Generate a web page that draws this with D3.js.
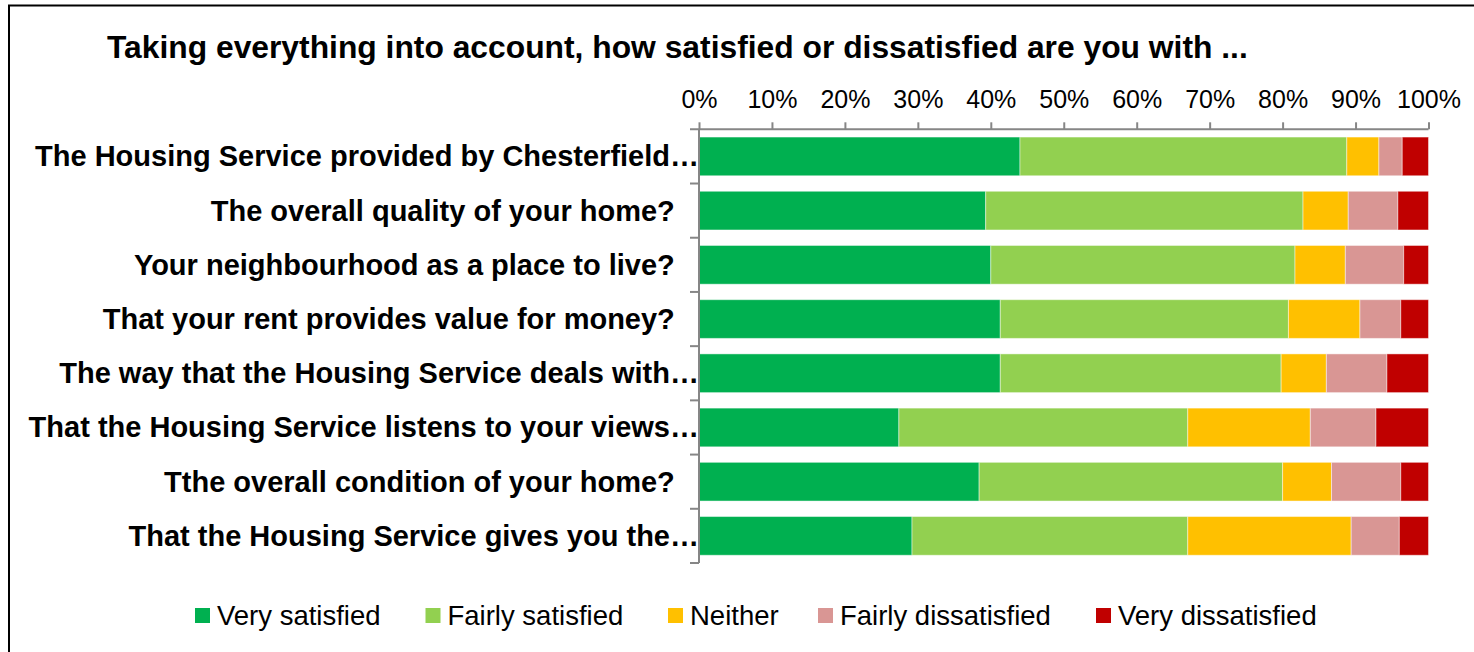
<!DOCTYPE html>
<html>
<head>
<meta charset="utf-8">
<script src="https://cdn.jsdelivr.net/npm/d3@7"></script>
<style>
  body { margin: 0; background: #fff; }
  text { font-family: "Liberation Sans", Arial, sans-serif; }
</style>
</head>
<body>
<svg id="chart" width="1474" height="652"></svg>
<script>
let questions = [
  "The Housing Service provided by Chesterfield\u2026",
  "The overall quality of your home?   ",
  "Your neighbourhood as a place to live?   ",
  "That your rent provides value for money?   ",
  "The way that the Housing Service deals with\u2026",
  "That the Housing Service listens to your views\u2026",
  "Tthe overall condition of your home?   ",
  "That the Housing Service gives you the\u2026"
];

let responses = ["Very satisfied", "Fairly satisfied", "Neither", "Fairly dissatisfied", "Very dissatisfied"];

let veryS = [44.0, 39.3, 40.0, 41.3, 41.3, 27.4, 38.4, 29.2];
let fairlyS = [44.8, 43.5, 41.7, 39.5, 38.5, 39.6, 41.6, 37.8];
let neither = [4.4, 6.2, 6.9, 9.8, 6.2, 16.8, 6.7, 22.4];
let fairlyD = [3.2, 6.8, 8.0, 5.6, 8.3, 9.0, 9.5, 6.6];
let veryD = [3.6, 4.2, 3.4, 3.8, 5.7, 7.2, 3.8, 4.0];

let colors = ["#00b050", "#92d050", "#ffc000", "#d99694", "#c00000"];

let tickLabels = ["0%", "10%", "20%", "30%", "40%", "50%", "60%", "70%", "80%", "90%", "100%"];

let svg = d3.select("#chart");
let width = +svg.attr("width");
let height = +svg.attr("height");

// frame, right and bottom edges fall outside the picture
svg.append("rect")
  .attr("x", 9).attr("y", 5.5)
  .attr("width", width).attr("height", height)
  .attr("fill", "none")
  .attr("stroke", "#000")
  .attr("stroke-width", 2);

svg.append("text")
  .attr("x", 107).attr("y", 58)
  .style("font-size", "31.8px")
  .style("font-weight", "bold")
  .text("Taking everything into account, how satisfied or dissatisfied are you with ...");

let table = questions.map(function (q, i) {
  return {
    question: q,
    "Very satisfied": veryS[i],
    "Fairly satisfied": fairlyS[i],
    "Neither": neither[i],
    "Fairly dissatisfied": fairlyD[i],
    "Very dissatisfied": veryD[i]
  };
});

let stacked = d3.stack().keys(responses)(table);

let x = d3.scaleLinear().domain([0, 100]).range([699, 1428.5]);
let y = d3.scaleBand().domain(questions).range([129.3, 563]).paddingInner(0.286).paddingOuter(0.143);

let color = d3.scaleOrdinal().domain(responses).range(colors);

svg.append("g")
  .selectAll("g")
  .data(stacked)
  .enter()
  .append("g")
  .attr("fill", function (d) { return color(d.key); })
  .selectAll("rect")
  .data(function (d) { return d; })
  .enter()
  .append("rect")
  .attr("x", function (d) { return x(d[0]); })
  .attr("y", function (d) { return y(d.data.question); })
  .attr("width", function (d) { return x(d[1]) - x(d[0]); })
  .attr("height", y.bandwidth())
  .attr("stroke", "#fff")
  .attr("stroke-opacity", 0.45)
  .attr("stroke-width", 1);

// top percentage axis
let xAxis = svg.append("g")
  .attr("transform", "translate(0,129.3)")
  .call(d3.axisTop(x)
    .tickValues(d3.range(0, 101, 10))
    .tickFormat(function (d, i) { return tickLabels[i]; })
    .tickSize(7)
    .tickSizeOuter(0)
    .tickPadding(14));
xAxis.select(".domain").remove();
xAxis.append("line")
  .attr("x1", 690).attr("x2", x(100))
  .attr("stroke", "#868686").attr("stroke-width", 2);
xAxis.selectAll(".tick line").attr("stroke", "#868686").attr("stroke-width", 2);
xAxis.selectAll(".tick text")
  .attr("fill", "#000")
  .style("font-size", "25px")
  .style("font-family", "'Liberation Sans', Arial, sans-serif");

// category axis
let yAxis = svg.append("g");
yAxis.append("line")
  .attr("x1", x(0)).attr("x2", x(0))
  .attr("y1", y.range()[0]).attr("y2", y.range()[1])
  .attr("stroke", "#868686").attr("stroke-width", 2);
let bounds = questions.map(function (q) { return y(q) + y.bandwidth() + y.step() * y.paddingInner() / 2; });
yAxis.selectAll(".cat-tick")
  .data(bounds)
  .enter()
  .append("line")
  .attr("class", "cat-tick")
  .attr("x1", 690).attr("x2", x(0))
  .attr("y1", function (d) { return d; })
  .attr("y2", function (d) { return d; })
  .attr("stroke", "#868686").attr("stroke-width", 2);

yAxis.selectAll(".cat-label")
  .data(questions)
  .enter()
  .append("text")
  .attr("class", "cat-label")
  .attr("x", 699)
  .attr("y", function (d) { return y(d) + y.bandwidth() / 2 + 10; })
  .attr("text-anchor", "end")
  .attr("xml:space", "preserve")
  .style("white-space", "pre")
  .style("font-size", "29px")
  .style("font-weight", "bold")
  .text(function (d) { return d; });

// legend
let legendX = [195, 425.5, 668, 818, 1096];
let legend = svg.append("g")
  .selectAll("g")
  .data(responses)
  .enter()
  .append("g")
  .attr("transform", function (d, i) { return "translate(" + legendX[i] + ",608)"; });
legend.append("rect")
  .attr("width", 15).attr("height", 15)
  .attr("fill", function (d) { return color(d); });
legend.append("text")
  .attr("x", 22).attr("y", 17)
  .style("font-size", "27.5px")
  .text(function (d) { return d; });
</script>
</body>
</html>
